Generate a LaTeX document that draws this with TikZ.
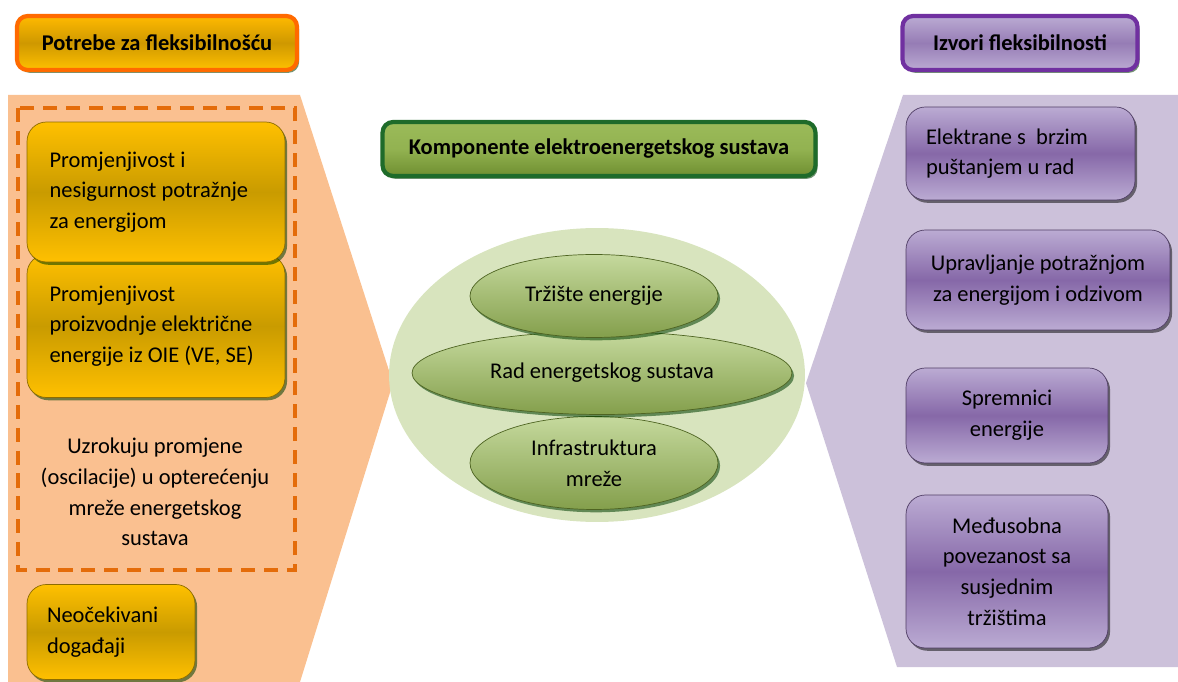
\documentclass[tikz,border=0pt]{standalone}
\usepackage{fontspec}
\setmainfont{Carlito}
\usepackage{tikz}
\usetikzlibrary{shapes,positioning,shadows}
\usepackage{xcolor}
\definecolor{needgold}{HTML}{FFC000}
\definecolor{needdark}{HTML}{C99B00}
\definecolor{needorange}{HTML}{FF6A00}
\definecolor{needpeach}{HTML}{FAC090}
\definecolor{needdash}{HTML}{E46C0A}
\definecolor{compgreen}{HTML}{9BBB59}
\definecolor{complight}{HTML}{C5D99D}
\definecolor{compdark}{HTML}{6F8F30}
\definecolor{compframe}{HTML}{1E6B2A}
\definecolor{compbg}{HTML}{D8E4BE}
\definecolor{srclight}{HTML}{BBABD3}
\definecolor{srcdark}{HTML}{8668A8}
\definecolor{srcframe}{HTML}{7030A0}
\definecolor{srcbg}{HTML}{CCC1DA}
\newcommand{\diagfont}{\fontsize{12.8}{17.5}\selectfont}
\tikzstyle{boxshadow} = [drop shadow={shadow xshift=1.2pt, shadow yshift=-1.6pt, fill=black!60!green!60!black, opacity=0.55}]
\tikzstyle{titlebox} = [rectangle, rounded corners=6pt, minimum height=1.08cm, line width=2.4pt, font=\diagfont\bfseries, boxshadow]
\tikzstyle{needbox} = [rectangle, rounded corners=11pt, top color=needgold, bottom color=needgold, middle color=needdark, draw=needdark!70!black, thin, boxshadow, align=flush left, inner xsep=0.45cm]
\tikzstyle{compellipse} = [ellipse, inner sep=0pt, top color=complight, bottom color=compgreen!85!black, draw=compdark!70!black, thin, boxshadow]
\tikzstyle{sourcebox} = [rectangle, rounded corners=11pt, top color=srclight, bottom color=srclight, middle color=srcdark, draw=srcdark!60!black, thin, drop shadow={shadow xshift=1.2pt, shadow yshift=-1.6pt, fill=black, opacity=0.5}, align=center, inner xsep=0.4cm]

\begin{document}
\begin{tikzpicture}[x=0.02cm, y=-0.02cm, font=\diagfont]
\useasboundingbox (0,0) rectangle (1178,682);
\fill[needpeach] (8,95) -- (300,95) -- (393,383) -- (300,682) -- (8,682) -- cycle;
\fill[srcbg] (903,95) -- (1178,95) -- (1178,667) -- (897,667) -- (806,383) -- cycle;
\draw[needdash, line width=2.4pt, dash pattern=on 8pt off 5pt] (18,108) rectangle (295,570);

\node[titlebox, draw=needorange, top color=needgold!90!orange, bottom color=needgold, middle color=needdark!90!orange, minimum width=5.6cm] (needs) at (157,43) {Potrebe za fleksibilnošću};
\node[titlebox, draw=compframe, top color=compgreen, bottom color=compdark, middle color=compgreen!80!compdark, minimum width=8.66cm] (comps) at (599,149) {Komponente elektroenergetskog sustava};
\node[titlebox, draw=srcframe, top color=srclight, bottom color=srclight, middle color=srcdark!70!srclight, minimum width=4.7cm] (sources) at (1020,43) {Izvori fleksibilnosti};

\node[needbox, minimum width=5.16cm, minimum height=2.86cm, text width=4.26cm] (generation) at (156,326) {Promjenjivost\\proizvodnje električne\\energije iz OIE (VE, SE)};
\node[needbox, minimum width=5.16cm, minimum height=2.8cm, text width=4.26cm] (demand) at (156,192) {Promjenjivost i\\nesigurnost potražnje\\za energijom};
\node[align=center] (cause) at (155,492) {Uzrokuju promjene\\(oscilacije) u opterećenju\\mreže energetskog\\sustava};
\node[needbox, minimum width=3.36cm, minimum height=1.9cm, text width=2.56cm, inner xsep=0.4cm] (events) at (111,632) {Neočekivani\\događaji};

\node[ellipse, fill=compbg, minimum width=8.32cm, minimum height=5.88cm] (system) at (597,375) {};
\node[compellipse, minimum width=4.96cm, minimum height=1.86cm, align=center] (grid) at (594,463) {Infrastruktura\\mreže};
\node[compellipse, minimum width=7.6cm, minimum height=1.66cm] (operation) at (602,373) {Rad energetskog sustava};
\node[compellipse, minimum width=4.96cm, minimum height=1.66cm] (market) at (594,296) {Tržište energije};

\node[sourcebox, minimum width=4.58cm, minimum height=1.86cm, text width=3.78cm, align=flush left] (plants) at (1020.5,153.5) {Elektrane s~ brzim\\puštanjem u rad};
\node[sourcebox, minimum width=5.28cm, minimum height=2cm] (response) at (1038,280) {Upravljanje potražnjom\\za energijom i odzivom};
\node[sourcebox, minimum width=4.04cm, minimum height=1.9cm] (storage) at (1007,415.5) {Spremnici\\energije};
\node[sourcebox, minimum width=4.04cm, minimum height=3.06cm] (links) at (1007,571.5) {Međusobna\\povezanost sa\\susjednim\\tržištima};
\end{tikzpicture}
\end{document}
